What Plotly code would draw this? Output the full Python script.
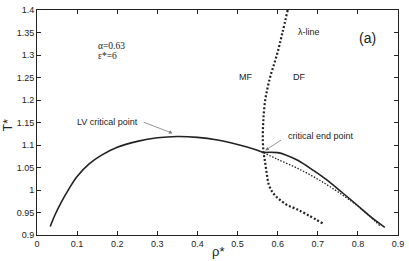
import plotly.graph_objects as go

# LV coexistence curve (solid), vapour side up to the critical end point
lv_left_rho = [0.033, 0.045, 0.06, 0.08, 0.10, 0.13, 0.16, 0.20, 0.25, 0.30, 0.35, 0.40, 0.45, 0.50, 0.54, 0.565]
lv_left_T = [0.919, 0.945, 0.972, 1.003, 1.030, 1.058, 1.077, 1.095, 1.108, 1.116, 1.119, 1.117, 1.111, 1.101, 1.091, 1.083]

# solid branch beyond the critical end point
lv_right_rho = [0.565, 0.58, 0.60, 0.62, 0.65, 0.69, 0.72, 0.76, 0.80, 0.83, 0.867]
lv_right_T = [1.083, 1.084, 1.083, 1.078, 1.066, 1.043, 1.024, 0.995, 0.965, 0.942, 0.917]

# dotted (metastable) branch
meta_rho = [0.565, 0.60, 0.65, 0.70, 0.75, 0.80, 0.857]
meta_T = [1.083, 1.068, 1.048, 1.024, 0.996, 0.964, 0.919]

# lambda-line
lam_rho = [0.625, 0.612, 0.598, 0.581, 0.569, 0.564, 0.563, 0.565, 0.569, 0.573, 0.578, 0.588, 0.603, 0.623, 0.646, 0.676, 0.714]
lam_T = [1.40, 1.35, 1.30, 1.25, 1.20, 1.15, 1.11, 1.083, 1.06, 1.035, 1.012, 0.994, 0.980, 0.967, 0.958, 0.944, 0.925]

x_ticks = [0, 0.1, 0.2, 0.3, 0.4, 0.5, 0.6, 0.7, 0.8, 0.9]
x_tick_labels = ["0", "0.1", "0.2", "0.3", "0.4", "0.5", "0.6", "0.7", "0.8", "0.9"]
y_ticks = [0.9, 0.95, 1.0, 1.05, 1.1, 1.15, 1.2, 1.25, 1.3, 1.35, 1.4]
y_tick_labels = ["0.9", "0.95", "1", "1.05", "1.1", "1.15", "1.2", "1.25", "1.3", "1.35", "1.4"]

fig = go.Figure()
fig.add_trace(go.Scatter(x=lv_left_rho, y=lv_left_T, mode="lines", line=dict(color="#222222", width=1.6, shape="spline"), hoverinfo="skip"))
fig.add_trace(go.Scatter(x=lv_right_rho, y=lv_right_T, mode="lines", line=dict(color="#222222", width=1.6, shape="spline"), hoverinfo="skip"))
fig.add_trace(go.Scatter(x=meta_rho, y=meta_T, mode="lines", line=dict(color="#222222", width=1.3, dash="1.5px,1.6px", shape="spline"), hoverinfo="skip"))
fig.add_trace(go.Scatter(x=lam_rho, y=lam_T, mode="lines", line=dict(color="#222222", width=2.2, dash="2px,2px", shape="spline"), hoverinfo="skip"))

sans = "Liberation Sans, Arial, sans-serif"
txt_font = dict(family=sans, size=9, color="#222222")
serif_font = dict(family="Liberation Serif, Times New Roman, serif", size=9.5, color="#222222")

anns = [
    dict(x=0.148, y=1.321, text="α=0.63", font=serif_font, xanchor="left", yanchor="middle", showarrow=False),
    dict(x=0.148, y=1.298, text="ε*=6", font=serif_font, xanchor="left", yanchor="middle", showarrow=False),
    dict(x=0.519, y=1.251, text="MF", font=txt_font, xanchor="center", yanchor="middle", showarrow=False),
    dict(x=0.654, y=1.251, text="DF", font=txt_font, xanchor="center", yanchor="middle", showarrow=False),
    dict(x=0.679, y=1.352, text="λ-line", font=txt_font, xanchor="center", yanchor="middle", showarrow=False),
    dict(x=0.823, y=1.338, text="(a)", font=dict(family=sans, size=14, color="#222222"), xanchor="center", yanchor="middle", showarrow=False),
    dict(x=0.257, y=1.152, text="LV critical point", font=txt_font, xanchor="right", yanchor="middle", showarrow=False),
    dict(x=0.622, y=1.119, text="critical end point", font=txt_font, xanchor="left", yanchor="middle", showarrow=False),
    # arrows
    dict(x=0.338, y=1.126, ax=0.262, ay=1.152, axref="x", ayref="y", xref="x", yref="y", text="",
         showarrow=True, arrowhead=2, arrowsize=0.9, arrowwidth=0.8, arrowcolor="#777777"),
    dict(x=0.569, y=1.088, ax=0.612, ay=1.113, axref="x", ayref="y", xref="x", yref="y", text="",
         showarrow=True, arrowhead=2, arrowsize=0.9, arrowwidth=0.8, arrowcolor="#777777"),
    # axis titles
    dict(x=0.5, y=-0.075, xref="paper", yref="paper", text="ρ*", font=dict(family=sans, size=13, color="#222222"),
         xanchor="center", yanchor="middle", showarrow=False),
    dict(x=-0.082, y=0.49, xref="paper", yref="paper", text="T*", textangle=-90, font=dict(family=sans, size=12, color="#222222"),
         xanchor="center", yanchor="middle", showarrow=False),
]

axis_common = dict(showgrid=False, zeroline=False, showline=True, linecolor="#222222", linewidth=1,
                   mirror="ticks", ticks="inside", ticklen=4, tickwidth=1, tickcolor="#222222",
                   tickfont=dict(family=sans, size=9, color="#222222"))

fig.update_layout(
    width=409, height=261,
    margin=dict(l=37, r=9, t=5, b=26),
    paper_bgcolor="white", plot_bgcolor="white",
    showlegend=False,
    hovermode=False,
    annotations=anns,
    xaxis=dict(range=[0, 0.9], tickvals=x_ticks, ticktext=x_tick_labels, **axis_common),
    yaxis=dict(range=[0.9, 1.4], tickvals=y_ticks, ticktext=y_tick_labels, **axis_common),
)

fig.write_html("out.html", config={"displayModeBar": False, "staticPlot": True},
               post_script="document.body.style.margin='0px';document.body.style.padding='0px';document.body.style.overflow='hidden';")
